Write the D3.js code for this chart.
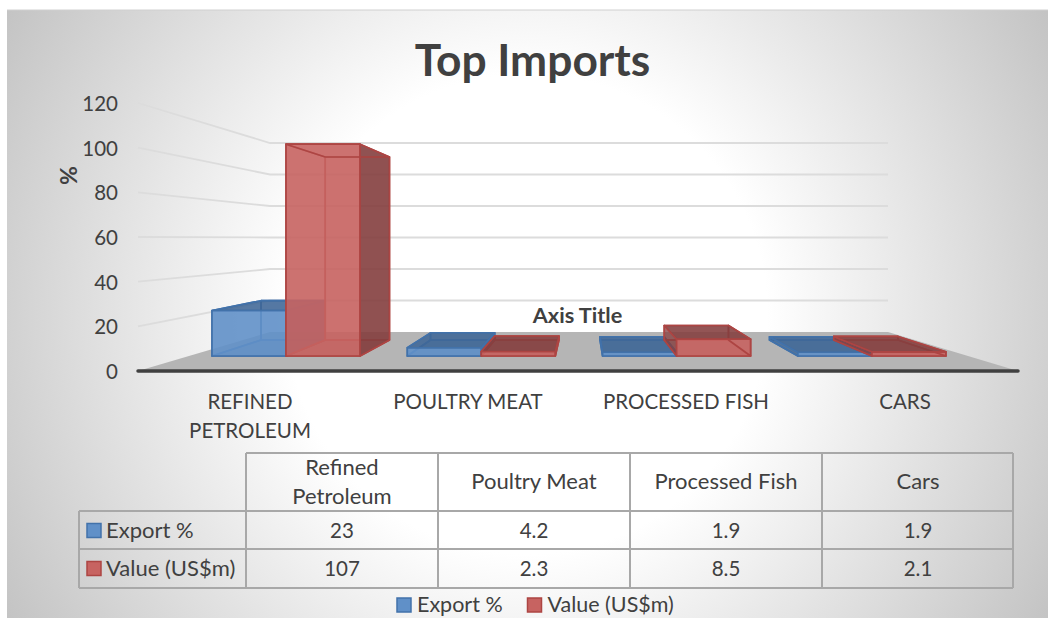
<!DOCTYPE html>
<html><head><meta charset="utf-8">
<script src="https://cdn.jsdelivr.net/npm/d3@7"></script>
<style>html,body{margin:0;padding:0;background:#fff}svg{display:block}text{font-family:Lato,"Open Sans",sans-serif;fill:#404040}</style>
</head><body><div id="c"></div>
<script>
const title = "Top Imports";
const axisTitleX = "Axis Title";
const axisTitleY = "%";
const yTicks = [0,20,40,60,80,100,120];
const categories = ["Refined Petroleum","Poultry Meat","Processed Fish","Cars"];
const axisLabels = [["REFINED","PETROLEUM"],["POULTRY MEAT"],["PROCESSED FISH"],["CARS"]];
const headerLines = [["Refined","Petroleum"],["Poultry Meat"],["Processed Fish"],["Cars"]];
const seriesNames = ["Export %","Value (US$m)"];
const exportPct = [23,4.2,1.9,1.9];
const valueUsd = [107,2.3,8.5,2.1];
const seriesValues = [exportPct,valueUsd];
const seriesStyle = [
 {front:"#6090c8",edge:"#4272aa",dark:"#3f6796"},
 {front:"#c76361",edge:"#ad4543",dark:"#843f3f"}];

const W=1048,H=618;
const svg=d3.select("#c").append("svg").attr("width",W).attr("height",H);
const defs=svg.append("defs");
const g=defs.append("radialGradient").attr("id","bg").attr("gradientUnits","userSpaceOnUse")
 .attr("cx",527).attr("cy",314).attr("r",600);
g.append("stop").attr("offset","0.4").attr("stop-color","#ffffff");
g.append("stop").attr("offset","1").attr("stop-color","#c4c4c4");
svg.append("rect").attr("x",7).attr("y",10).attr("width",1041).attr("height",608).attr("fill","url(#bg)");
svg.append("line").attr("x1",7).attr("x2",1048).attr("y1",10).attr("y2",10).attr("stroke","#d0d0d0");

// projection scales: front / back planes of the wall and of the bars
const wallFront=d3.scaleLinear().domain([0,120]).range([371,103]);
const wallBack=d3.scaleLinear().domain([0,120]).range([332,143]);
const barYF=d3.scaleLinear().domain([0,120]).range([356,118.4]);
const barYB=d3.scaleLinear().domain([0,120]).range([340,134.8]);
const barXF=d3.scaleLinear().domain([0,4]).range([212,993.2]);
const barXB=d3.scaleLinear().domain([0,4]).range([261,939]);
const barW=0.379;
const wallX0=138,wallX1=270,wallX2=888,floorX3=1018;

const line=d3.line();
// floor
svg.append("path").attr("d",line([[wallX0,371],[wallX1,332],[wallX2,332],[floorX3,371]])+"Z").attr("fill","#b5b5b5");
// gridlines
yTicks.filter(t=>t>0).forEach(t=>{
 svg.append("path").attr("d",line([[wallX0,wallFront(t)],[wallX1,wallBack(t)],[wallX2,wallBack(t)]]))
  .attr("fill","none").attr("stroke","#dcdcdc").attr("stroke-width",1.8);
});
// base line
svg.append("line").attr("x1",wallX0).attr("x2",floorX3).attr("y1",371).attr("y2",371)
 .attr("stroke","#404040").attr("stroke-width",3.5).attr("stroke-linecap","round");

// bars
seriesValues.forEach((vals,s)=>{
 const st=seriesStyle[s];
 vals.forEach((v,i)=>{
  const u0=i+s*barW,u1=u0+barW;
  const fl=barXF(u0),fr=barXF(u1),bl=barXB(u0),br=barXB(u1);
  const ft=barYF(v),fb=barYF(0),bt=barYB(v),bb=barYB(0);
  const bar=svg.append("g").attr("stroke",st.edge).attr("stroke-width",1.6).attr("stroke-linejoin","round");
  const face=(pts,fill,op)=>bar.append("path").attr("d",line(pts)+"Z").attr("fill",fill).attr("fill-opacity",op);
  face([[bl,bt],[br,bt],[br,bb],[bl,bb]],st.front,0.06);
  face([[fl,fb],[fr,fb],[br,bb],[bl,bb]],st.dark,0.25);
  face([[fl,ft],[bl,bt],[bl,bb],[fl,fb]],st.dark,bl>fl?0.0:0.75);
  face([[fl,ft],[fr,ft],[fr,fb],[fl,fb]],st.front,0.9);
  face([[fr,ft],[br,bt],[br,bb],[fr,fb]],st.dark,br>fr?0.9:0.0);
  face([[fl,ft],[fr,ft],[br,bt],[bl,bt]],st.dark,bt<ft?0.88:0);
 });
});

// text helpers
const txt=(x,y,t,size,anchor="middle",weight=400)=>svg.append("text").attr("x",x).attr("y",y)
 .attr("text-anchor",anchor).attr("font-size",size).attr("font-weight",weight).text(t);

txt(532.5,76,title,44.3,"middle",700);
yTicks.forEach(t=>txt(118,wallFront(t)+8,t,20.5,"end"));
svg.append("text").attr("transform","translate(77,175.5) rotate(-90)").attr("text-anchor","middle")
 .attr("font-size",23).attr("font-weight",700).text(axisTitleY);
txt(577.5,323,axisTitleX,21.7,"middle",700);

const labelX=[250,468,686,905];
axisLabels.forEach((ls,i)=>ls.forEach((l,j)=>txt(labelX[i],409+j*29,l,20.5)));

// data table
const colX=[246,438,630,822,1013];
const rowY=[453,511,549,588];
const tb=svg.append("g").attr("stroke","#a8a8a8").attr("stroke-width",2).attr("fill","none");
colX.forEach(x=>tb.append("line").attr("x1",x).attr("x2",x).attr("y1",453).attr("y2",588));
tb.append("line").attr("x1",79).attr("x2",79).attr("y1",511).attr("y2",588);
tb.append("line").attr("x1",246).attr("x2",1013).attr("y1",453).attr("y2",453);
tb.append("line").attr("x1",79).attr("x2",1013).attr("y1",511).attr("y2",511);
tb.append("line").attr("x1",79).attr("x2",1013).attr("y1",549).attr("y2",549);
tb.append("line").attr("x1",79).attr("x2",1013).attr("y1",588).attr("y2",588);
const colC=[342,534,726,918];
headerLines.forEach((ls,i)=>{
 if(ls.length==2){ls.forEach((l,j)=>txt(colC[i],475+j*29,l,22));}
 else txt(colC[i],489,ls[0],22);
});
const swatch=(x,y,s)=>svg.append("rect").attr("x",x).attr("y",y).attr("width",14).attr("height",14)
 .attr("fill",seriesStyle[s].front).attr("stroke",seriesStyle[s].edge).attr("stroke-width",1.5);
seriesNames.forEach((n,s)=>{
 const cy=rowY[s+1]+19.5;
 swatch(87,cy-7,s);
 txt(106,cy+7,n,22,"start");
 seriesValues[s].forEach((v,i)=>txt(colC[i],cy+7,v,20.5));
});
// legend
const legX=[397,527.5];
seriesNames.forEach((n,s)=>{
 swatch(legX[s],598,s);
 txt(legX[s]+20,612,n,21.5,"start");
});
</script></body></html>
